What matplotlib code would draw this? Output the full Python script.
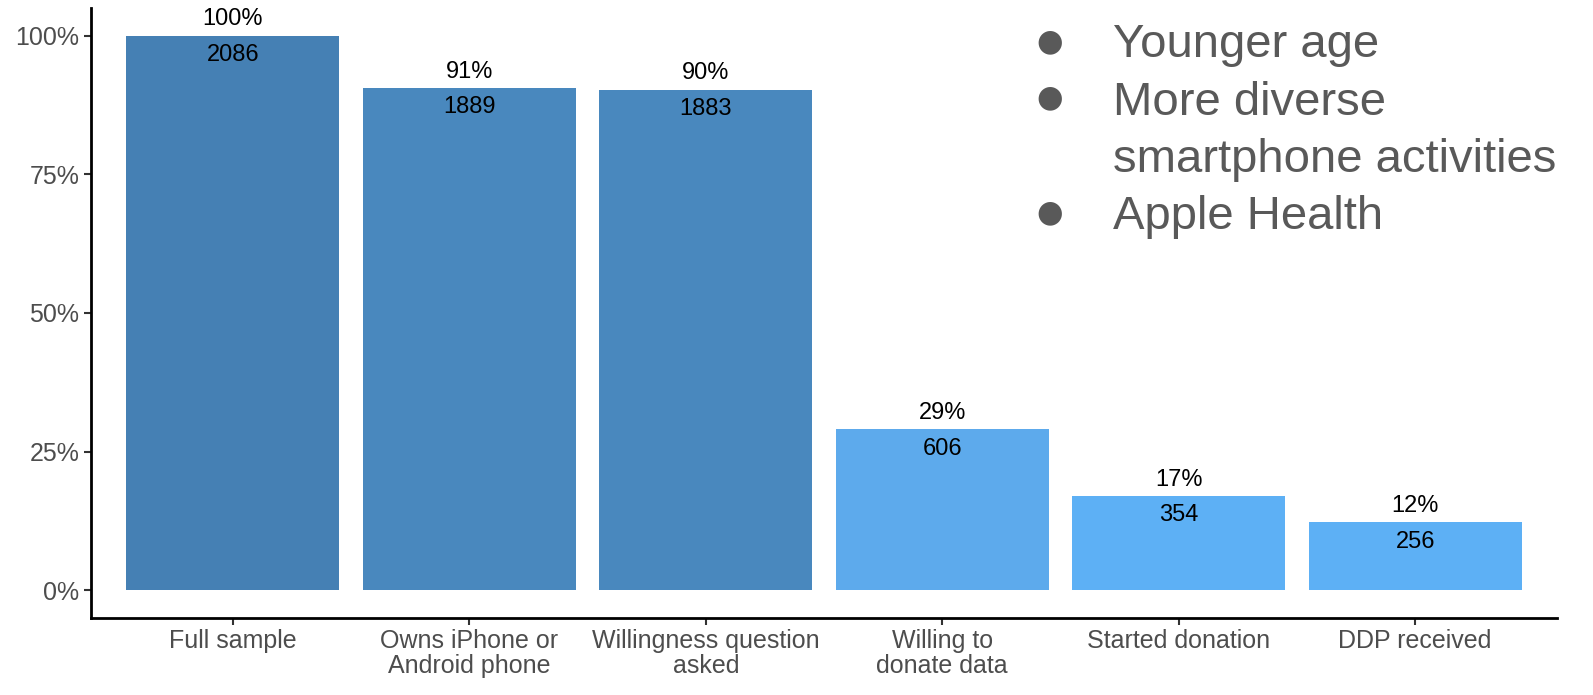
import matplotlib
matplotlib.use("Agg")
import matplotlib.pyplot as plt
from matplotlib.ticker import FuncFormatter

categories = ["Full sample", "Owns iPhone or\nAndroid phone", "Willingness question\nasked",
              "Willing to\ndonate data", "Started donation", "DDP received"]
counts = [2086, 1889, 1883, 606, 354, 256]
pct_labels = ["100%", "91%", "90%", "29%", "17%", "12%"]
bar_colors = ["#4580B4", "#4988BE", "#4988BE", "#5DAAEC", "#5DB0F5", "#5DB0F5"]
bullets = ["Younger age", "More diverse\nsmartphone activities", "Apple Health"]

plt.rcParams['font.family'] = ['Liberation Sans', 'DejaVu Sans']

fig = plt.figure(figsize=(15.93, 6.95), dpi=100)
ax = fig.add_axes([91/1593, 1 - 618/695, (1557-91)/1593, (618-8)/695])

total = counts[0]
vals = [c / total * 100 for c in counts]
x = list(range(1, len(categories) + 1))
ax.bar(x, vals, width=0.9, color=bar_colors)

for xi, v, c, p in zip(x, vals, counts, pct_labels):
    ax.annotate(p, (xi, v), xytext=(0, 4), textcoords="offset points",
                ha="center", va="bottom", fontsize=17, color="black")
    ax.annotate(str(c), (xi, v), xytext=(0, -6), textcoords="offset points",
                ha="center", va="top", fontsize=17, color="black")

ax.set_xlim(0.4, 6.6)
ax.set_ylim(-5, 105)
ax.set_yticks([0, 25, 50, 75, 100])
ax.yaxis.set_major_formatter(FuncFormatter(lambda v, _: f"{int(v)}%"))
ax.set_xticks(x)
ax.set_xticklabels(categories, linespacing=1.05)
ax.tick_params(axis="both", labelsize=18, labelcolor="#4D4D4D", color="#333333",
               length=5, width=1.5)
ax.tick_params(axis="x", pad=3)
for s in ["top", "right"]:
    ax.spines[s].set_visible(False)
for s in ["left", "bottom"]:
    ax.spines[s].set_linewidth(2)
    ax.spines[s].set_color("black")

# bullet list
bullet_color = "#595959"
dot_y = [42, 98, 213]
text_lines = []
for b in bullets:
    for ln in b.split("\n"):
        text_lines.append(ln)
line_y = [40, 98, 155, 212]
for yy in dot_y:
    fig.text(1050/1593, 1 - yy/695, "\u25CF", fontsize=22, color=bullet_color,
             ha="center", va="center", family="DejaVu Sans")
for ln, yy in zip(text_lines, line_y):
    fig.text(1113/1593, 1 - yy/695, ln, fontsize=34, color=bullet_color,
             ha="left", va="center_baseline")

fig.savefig("out.png", dpi=100)
